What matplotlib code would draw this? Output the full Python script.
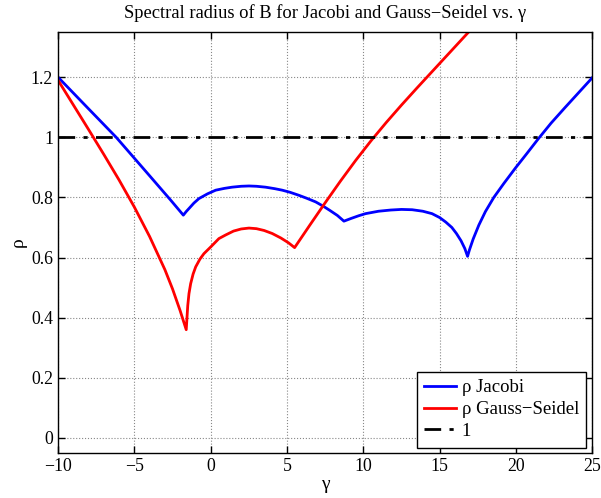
import numpy as np
import matplotlib
matplotlib.use("Agg")
import matplotlib.pyplot as plt

plt.rcParams['font.family'] = ['Liberation Serif', 'DejaVu Serif']
plt.rcParams['axes.unicode_minus'] = True

# values
gamma_jac = [-10, -8.1, -6.19, -4.0, -2.62, -1.79, -1.6, -1.42, -1.1, -0.77, -0.2,
             0.33, 0.9, 1.4, 2.0, 2.51, 3.0, 3.6, 4.2, 4.69, 5.2, 5.78, 6.3, 6.88,
             7.4, 7.8, 8.3, 8.73, 9.2, 9.7, 10.15, 11.0, 11.8, 12.5, 13.2, 13.9,
             14.5, 15.0, 15.4, 15.8, 16.1, 16.4, 16.65, 16.83, 16.95, 17.2, 17.57,
             18.0, 18.55, 19.2, 19.97, 20.7, 21.45, 22.3, 23.2, 24.1, 25]
rho_jac = [1.2, 1.1, 1.0, 0.872, 0.791, 0.741, 0.753, 0.763, 0.781, 0.796, 0.812,
           0.824, 0.830, 0.834, 0.837, 0.838, 0.837, 0.834, 0.829, 0.824, 0.817, 0.807,
           0.797, 0.785, 0.770, 0.757, 0.740, 0.721, 0.730, 0.739, 0.746, 0.754, 0.758,
           0.760, 0.759, 0.754, 0.746, 0.733, 0.718, 0.700, 0.680, 0.656, 0.630, 0.604,
           0.625, 0.662, 0.708, 0.753, 0.800, 0.846, 0.898, 0.945, 0.994, 1.047, 1.098,
           1.148, 1.198]

gamma_gs = [-10, -9, -8, -7, -6, -5, -4, -3, -2.5, -2, -1.6,
            -1.55, -1.5, -1.42, -1.31, -1.15, -0.98, -0.7, -0.44, 0.0, 0.54, 0.98,
            1.5, 2.0, 2.51, 3.0, 3.5, 4.03, 4.6, 5.1, 5.5, 6.5, 7.5, 8.5, 9.5, 10.5,
            11.5, 12.5, 13.5, 14.5, 15.5, 16.5, 17.5]
rho_gs = [1.19, 1.108, 1.026, 0.943, 0.858, 0.768, 0.670, 0.560, 0.496, 0.4235, 0.36,
          0.40, 0.44, 0.48, 0.513, 0.545, 0.569, 0.595, 0.613, 0.635, 0.663, 0.675,
          0.688, 0.695, 0.698, 0.696, 0.690, 0.680, 0.665, 0.649, 0.633, 0.708, 0.782,
          0.854, 0.923, 0.988, 1.049, 1.107, 1.163, 1.218, 1.273, 1.328, 1.383]

x_ticks = [-10, -5, 0, 5, 10, 15, 20, 25]
x_tick_labels = ['\u221210', '\u22125', '0', '5', '10', '15', '20', '25']
y_ticks = [0, 0.2, 0.4, 0.6, 0.8, 1, 1.2]
y_tick_labels = ['0', '0.2', '0.4', '0.6', '0.8', '1', '1.2']

fig = plt.figure(figsize=(6.01, 4.98), dpi=100)
ax = fig.add_axes([0.0965, 0.0904, 0.889, 0.8453])

ax.plot(gamma_jac, rho_jac, color='#0000ff', lw=2, label='ρ Jacobi')
ax.plot(gamma_gs, rho_gs, color='#ff0000', lw=2, label='ρ Gauss\u2212Seidel')
ax.axhline(1, color='black', lw=2, ls='-.', dashes=(6, 3, 1.5, 3), label='1')

ax.set_xlim(-10, 25)
ax.set_ylim(-0.05, 1.35)
ax.set_xticks(x_ticks)
ax.set_xticklabels(x_tick_labels)
ax.set_yticks(y_ticks)
ax.set_yticklabels(y_tick_labels)
ax.tick_params(direction='in', top=True, right=True, length=5, labelsize=12.8, width=1)
ax.grid(True, ls=':', color='#888888', lw=0.8)
for s in ax.spines.values():
    s.set_linewidth(1)

ax.set_title('Spectral radius of B for Jacobi and Gauss\u2212Seidel vs. γ', fontsize=13.3, pad=10)
ax.set_xlabel('γ', fontsize=14, labelpad=1)
ax.set_ylabel('ρ', fontsize=14, labelpad=3)

leg = ax.legend(loc='lower right', bbox_to_anchor=(0.989, 0.013), borderaxespad=0,
                fontsize=13.5, fancybox=False, framealpha=1, edgecolor='black',
                handlelength=1.7, handletextpad=0.3, borderpad=0.4, labelspacing=0.25)
leg.get_frame().set_linewidth(1)

fig.savefig('out.png', dpi=100)
